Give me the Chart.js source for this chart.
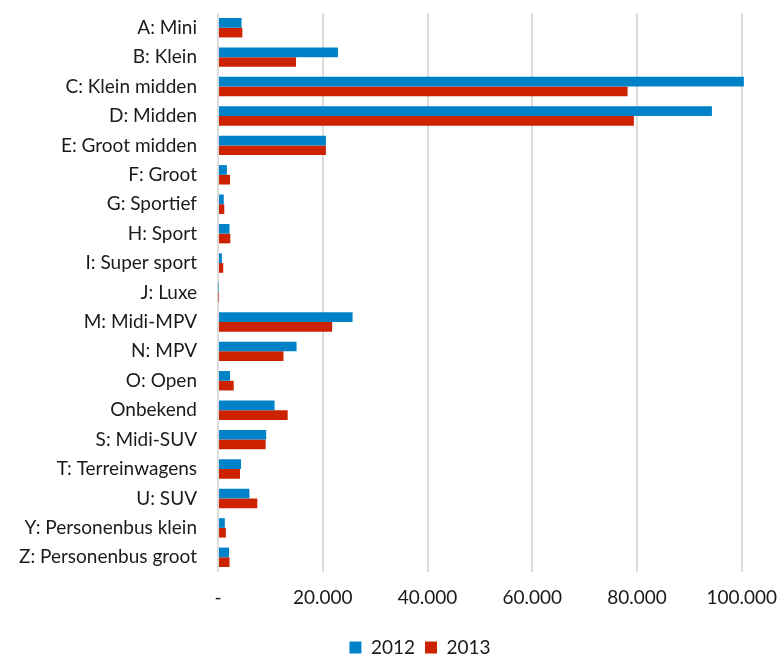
<!DOCTYPE html>
<html>
<head>
<meta charset="utf-8">
<script src="https://cdn.jsdelivr.net/npm/chart.js@4/dist/chart.umd.min.js"></script>
<style>
  html, body { margin: 0; padding: 0; background: #fff; overflow: hidden; }
  #wrap { width: 780px; height: 657px; }
</style>
</head>
<body>
<div id="wrap"><canvas id="segment-chart" width="780" height="657"></canvas></div>
<script>
// Segmenten en aantallen per jaar
const segments = [
    'A: Mini', 'B: Klein', 'C: Klein midden', 'D: Midden', 'E: Groot midden',
    'F: Groot', 'G: Sportief', 'H: Sport', 'I: Super sport', 'J: Luxe',
    'M: Midi-MPV', 'N: MPV', 'O: Open', 'Onbekend', 'S: Midi-SUV',
    'T: Terreinwagens', 'U: SUV', 'Y: Personenbus klein', 'Z: Personenbus groot'
];
const values2012 = [
    4500, 22900, 100400, 94300, 20600,
    1700, 1100, 2200, 750, 100,
    25700, 15000, 2300, 10800, 9200,
    4400, 6000, 1300, 2100
];
const values2013 = [
    4650, 14900, 78200, 79400, 20600,
    2300, 1200, 2350, 1000, 80,
    21800, 12500, 3000, 13300, 9100,
    4200, 7500, 1500, 2200
];
const xTicks = [0, 20000, 40000, 60000, 80000, 100000];

const textColor = '#1a1a1a';
const font = { family: "Lato, 'Noto Sans', sans-serif", size: 19 };

// Legenda iets lager en naar rechts
const legendShift = {
    id: 'legendShift',
    afterLayout(chart) {
        const lg = chart.legend;
        lg.top += 10;
        lg.bottom += 10;
        lg.left += 30;
        lg.right += 30;
    }
};

const ctx = document.getElementById('segment-chart').getContext('2d');
new Chart(ctx, {
    type: 'bar',
    data: {
        labels: segments,
        datasets: [{
            label: '2012',
            data: values2012,
            backgroundColor: '#0082c8',
            barPercentage: 1,
            categoryPercentage: 0.66
        }, {
            label: '2013',
            data: values2013,
            backgroundColor: '#cc2200',
            barPercentage: 1,
            categoryPercentage: 0.66
        }]
    },
    options: {
        indexAxis: 'y',
        responsive: false,
        animation: false,
        layout: { padding: { top: 13, right: 0, left: 0, bottom: 0 } },
        plugins: {
            legend: {
                position: 'bottom',
                labels: {
                    boxWidth: 12,
                    boxHeight: 12,
                    padding: 10,
                    color: textColor,
                    font: font
                }
            },
            tooltip: { enabled: false }
        },
        scales: {
            x: {
                min: 0,
                max: 101000,
                afterBuildTicks(axis) {
                    axis.ticks = xTicks.map(v => ({ value: v }));
                },
                afterFit(scale) {
                    scale.height = 46;
                    scale.paddingRight = 33;
                },
                ticks: {
                    color: textColor,
                    font: font,
                    padding: 14,
                    maxRotation: 0,
                    callback: v => v === 0 ? '-' : v.toLocaleString('nl-NL')
                },
                grid: {
                    color: '#dcdcdc',
                    lineWidth: 2,
                    drawTicks: false
                },
                border: { display: false }
            },
            y: {
                afterFit(scale) {
                    scale.width = 218;
                    scale.paddingTop = 0;
                    scale.paddingBottom = 0;
                },
                ticks: {
                    color: textColor,
                    font: font,
                    padding: 21,
                    autoSkip: false
                },
                grid: { display: false, drawTicks: false },
                border: { display: false }
            }
        }
    },
    plugins: [legendShift]
});
</script>
</body>
</html>
